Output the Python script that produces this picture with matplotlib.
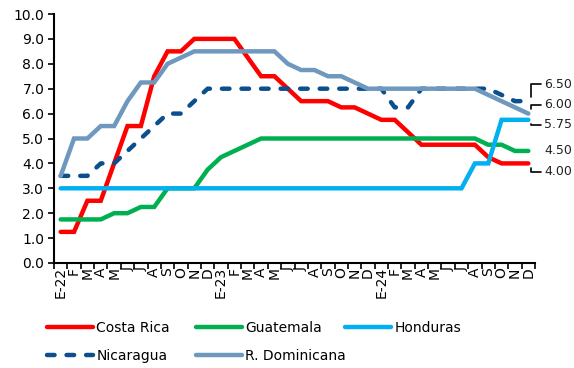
import numpy as np
import matplotlib.pyplot as plt
from matplotlib.ticker import FormatStrFormatter
from matplotlib.lines import Line2D

# Monthly categories Jan-2022 .. Dec-2024
months = ["E", "F", "M", "A", "M", "J", "J", "A", "S", "O", "N", "D"]
years = ["22", "23", "24"]
tick_labels = []
for y in years:
    for k, m in enumerate(months):
        tick_labels.append(f"{m}-{y}" if k == 0 else m)

# Policy rates (%)
costa_rica = [1.25, 1.25, 2.5, 2.5, 4.0, 5.5, 5.5, 7.5, 8.5, 8.5, 9.0, 9.0,
              9.0, 9.0, 8.25, 7.5, 7.5, 7.0, 6.5, 6.5, 6.5, 6.25, 6.25, 6.0,
              5.75, 5.75, 5.25, 4.75, 4.75, 4.75, 4.75, 4.75, 4.25, 4.0, 4.0, 4.0]
guatemala = [1.75, 1.75, 1.75, 1.75, 2.0, 2.0, 2.25, 2.25, 3.0, 3.0, 3.0, 3.75,
             4.25, 4.5, 4.75, 5.0, 5.0, 5.0, 5.0, 5.0, 5.0, 5.0, 5.0, 5.0,
             5.0, 5.0, 5.0, 5.0, 5.0, 5.0, 5.0, 5.0, 4.75, 4.75, 4.5, 4.5]
honduras = [3.0, 3.0, 3.0, 3.0, 3.0, 3.0, 3.0, 3.0, 3.0, 3.0, 3.0, 3.0,
            3.0, 3.0, 3.0, 3.0, 3.0, 3.0, 3.0, 3.0, 3.0, 3.0, 3.0, 3.0,
            3.0, 3.0, 3.0, 3.0, 3.0, 3.0, 3.0, 4.0, 4.0, 5.75, 5.75, 5.75]
nicaragua = [3.5, 3.5, 3.5, 4.0, 4.0, 4.5, 5.0, 5.5, 6.0, 6.0, 6.5, 7.0,
             7.0, 7.0, 7.0, 7.0, 7.0, 7.0, 7.0, 7.0, 7.0, 7.0, 7.0, 7.0,
             7.0, 6.25, 6.25, 7.0, 7.0, 7.0, 7.0, 7.0, 7.0, 6.75, 6.5, 6.5]
r_dominicana = [3.5, 5.0, 5.0, 5.5, 5.5, 6.5, 7.25, 7.25, 8.0, 8.25, 8.5, 8.5,
                8.5, 8.5, 8.5, 8.5, 8.5, 8.0, 7.75, 7.75, 7.5, 7.5, 7.25, 7.0,
                7.0, 7.0, 7.0, 7.0, 7.0, 7.0, 7.0, 7.0, 6.75, 6.5, 6.25, 6.0]

series = [
    ("Costa Rica", costa_rica, "#FF0000", "-"),
    ("Guatemala", guatemala, "#00B050", "-"),
    ("Honduras", honduras, "#00B0F0", "-"),
    ("Nicaragua", nicaragua, "#0B4F8C", "--"),
    ("R. Dominicana", r_dominicana, "#6F98BE", "-"),
]

# end labels: text, series value, vertical offset (points) of the label, leader line
end_labels = [
    ("6.50", nicaragua[-1], 12.0, True),
    ("6.00", r_dominicana[-1], 6.5, True),
    ("5.75", honduras[-1], -3.5, True),
    ("4.50", guatemala[-1], 0.0, False),
    ("4.00", costa_rica[-1], -6.0, True),
]

plt.rcParams["font.family"] = "DejaVu Sans"
fs = 10
lw = 3.2
dash = (1.7, 2.7)

fig = plt.figure(figsize=(5.74, 3.68), dpi=100)
ax = fig.add_axes([54 / 574, 105 / 368, 481 / 574, 249 / 368])

x = np.arange(len(tick_labels))
handles = {}
for name, vals, color, ls in series:
    line, = ax.plot(x, vals, color=color, lw=lw, solid_capstyle="round",
                    solid_joinstyle="miter", clip_on=False, label=name)
    if ls == "--":
        line.set_dashes(dash)
        line.set_dash_capstyle("round")
    handles[name] = line

ax.set_xlim(-0.5, len(x) - 0.5)
ax.set_ylim(0, 10)
ax.set_yticks(np.arange(0, 11, 1))
ax.yaxis.set_major_formatter(FormatStrFormatter("%.1f"))

# ticks between categories, labels at category centres
ax.set_xticks(np.arange(-0.5, len(x), 1))
ax.set_xticklabels([])
ax.set_xticks(x, labels=tick_labels, minor=True, rotation=90)
ax.tick_params(axis="x", which="major", length=4, width=1.2)
ax.tick_params(axis="x", which="minor", length=0, pad=3, labelsize=fs)
ax.tick_params(axis="y", length=4, width=1.2, labelsize=fs, pad=3)

for side in ["top", "right"]:
    ax.spines[side].set_visible(False)
for side in ["left", "bottom"]:
    ax.spines[side].set_linewidth(1.5)

# labels at the end of the lines
for txt, val, dy, leader in end_labels:
    arrow = None
    if leader:
        arrow = dict(arrowstyle="-", color="black", lw=1.2,
                     connectionstyle="angle,angleA=0,angleB=90,rad=0",
                     relpos=(0, 0.5), shrinkA=0, shrinkB=3)
    ax.annotate(txt, xy=(len(x) - 0.8, val), xytext=(9.5, dy),
                textcoords="offset points", ha="left", va="center",
                fontsize=9, color="#222222", arrowprops=arrow,
                annotation_clip=False)

# legend laid out in three fixed-width columns
columns = [["Costa Rica", "Nicaragua"], ["Guatemala", "R. Dominicana"], ["Honduras"]]
col_x = [47 / 574, 196 / 574, 345 / 574]
for names, cx in zip(columns, col_x):
    hs = []
    for n in names:
        h = handles[n]
        proxy = Line2D([], [], color=h.get_color(), lw=lw,
                       solid_capstyle="round", label=n)
        if n == "Nicaragua":
            proxy.set_dashes(dash)
            proxy.set_dash_capstyle("round")
        hs.append(proxy)
    fig.legend(handles=hs, loc="upper left", bbox_to_anchor=(cx, 1 - 321 / 368),
               frameon=False, fontsize=fs, handlelength=3.3, handletextpad=0.25,
               borderpad=0, borderaxespad=0, labelspacing=1.0)

fig.savefig("out.png", dpi=100)
